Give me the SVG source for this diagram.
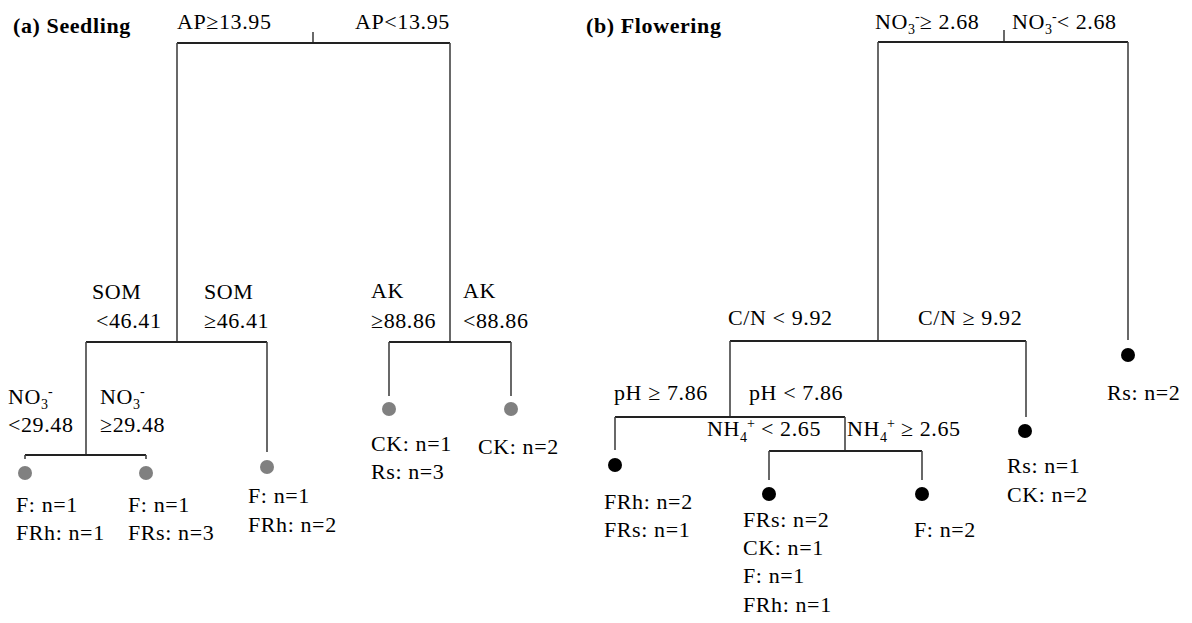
<svg xmlns="http://www.w3.org/2000/svg" width="1192" height="623" viewBox="0 0 1192 623">
<style>
text{font-family:"Liberation Serif","Times New Roman",serif;font-size:22px;fill:#000;letter-spacing:0.6px}
.b{font-weight:bold}
.s{font-size:14px;letter-spacing:0}
.h{stroke:#222;stroke-width:2.2;fill:none}
.v{stroke:#444;stroke-width:1.6;fill:none}
.ga{fill:#808080}
.bk{fill:#000}
</style>
<rect width="1192" height="623" fill="#fff"/>
<g id="connectors">
<path class="v" d="M313 32V43"/>
<path class="h" d="M177 43H450"/>
<path class="v" d="M177 43V342M450 43V342"/>
<path class="h" d="M86 342H267M389 342H511"/>
<path class="v" d="M86 342V455M267 342V452M389 342V396M511 342V396"/>
<path class="h" d="M25 455H146"/>
<path class="v" d="M25 455V459M146 455V459"/>
<path class="v" d="M1004 30V42"/>
<path class="h" d="M878 42H1128"/>
<path class="v" d="M878 42V341M1128 42V340"/>
<path class="h" d="M730 341H1026"/>
<path class="v" d="M730 341V417M1026 341V417"/>
<path class="h" d="M615 417H845"/>
<path class="v" d="M615 417V450M845 417V451"/>
<path class="h" d="M769 451H922"/>
<path class="v" d="M769 451V480M922 451V480"/>
</g>
<g id="title-a"><text class="b" x="13" y="33">(a) Seedling</text></g>
<g id="a-root"><text x="177" y="29">AP≥13.95</text><text x="355" y="29">AP&lt;13.95</text></g>
<g id="a-som"><text x="92" y="299">SOM</text><text x="96" y="328">&lt;46.41</text><text x="204" y="299">SOM</text><text x="204" y="328">≥46.41</text></g>
<g id="a-ak"><text x="371" y="298">AK</text><text x="371" y="328">≥88.86</text><text x="463" y="298">AK</text><text x="463" y="328">&lt;88.86</text></g>
<g id="a-no3"><text x="8" y="404">NO<tspan class="s" dy="5">3</tspan><tspan class="s" dy="-13">-</tspan></text><text x="8" y="432">&lt;29.48</text><text x="100" y="404">NO<tspan class="s" dy="5">3</tspan><tspan class="s" dy="-13">-</tspan></text><text x="100" y="432">≥29.48</text></g>
<g id="a-leaf1"><circle class="ga" cx="25" cy="473" r="7"/><text x="16" y="512">F: n=1</text><text x="16" y="540">FRh: n=1</text></g>
<g id="a-leaf2"><circle class="ga" cx="146" cy="473" r="7"/><text x="128" y="512">F: n=1</text><text x="128" y="540">FRs: n=3</text></g>
<g id="a-leaf3"><circle class="ga" cx="267" cy="467" r="7"/><text x="248" y="503">F: n=1</text><text x="248" y="532">FRh: n=2</text></g>
<g id="a-leaf4"><circle class="ga" cx="389" cy="409" r="7"/><text x="371" y="451">CK: n=1</text><text x="371" y="479">Rs: n=3</text></g>
<g id="a-leaf5"><circle class="ga" cx="511" cy="409" r="7"/><text x="478" y="454">CK: n=2</text></g>
<g id="title-b"><text class="b" x="586" y="33">(b) Flowering</text></g>
<g id="b-root"><text x="875" y="29">NO<tspan class="s" dy="5">3</tspan><tspan class="s" dy="-13">-</tspan><tspan dy="8">≥ 2.68</tspan></text><text x="1012" y="29">NO<tspan class="s" dy="5">3</tspan><tspan class="s" dy="-13">-</tspan><tspan dy="8">&lt; 2.68</tspan></text></g>
<g id="b-cn"><text x="728" y="325">C/N &lt; 9.92</text><text x="918" y="325">C/N ≥ 9.92</text></g>
<g id="b-ph"><text x="614" y="400">pH ≥ 7.86</text><text x="749" y="400">pH &lt; 7.86</text></g>
<g id="b-nh4"><text x="707" y="436">NH<tspan class="s" dy="6">4</tspan><tspan class="s" dy="-14">+</tspan><tspan dy="8"> &lt; 2.65</tspan></text><text x="847" y="436">NH<tspan class="s" dy="6">4</tspan><tspan class="s" dy="-14">+</tspan><tspan dy="8"> ≥ 2.65</tspan></text></g>
<g id="b-leaf1"><circle class="bk" cx="1128" cy="355" r="7"/><text x="1107" y="400">Rs: n=2</text></g>
<g id="b-leaf2"><circle class="bk" cx="1025" cy="431" r="7"/><text x="1007" y="473">Rs: n=1</text><text x="1007" y="502">CK: n=2</text></g>
<g id="b-leaf3"><circle class="bk" cx="615" cy="465" r="7"/><text x="604" y="509">FRh: n=2</text><text x="604" y="537">FRs: n=1</text></g>
<g id="b-leaf4"><circle class="bk" cx="769" cy="494" r="7"/><text x="743" y="527">FRs: n=2</text><text x="743" y="555">CK: n=1</text><text x="743" y="583">F: n=1</text><text x="743" y="612">FRh: n=1</text></g>
<g id="b-leaf5"><circle class="bk" cx="922" cy="494" r="7"/><text x="914" y="537">F: n=2</text></g>
</svg>
